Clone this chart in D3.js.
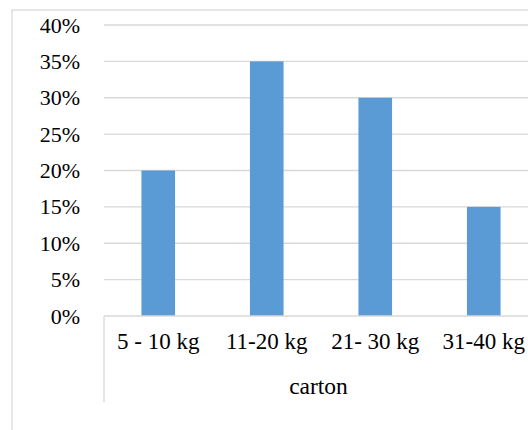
<!DOCTYPE html>
<html>
<head>
<meta charset="utf-8">
<script src="https://cdn.jsdelivr.net/npm/d3@7"></script>
<style>
  html, body { margin: 0; padding: 0; background: #fff; }
  svg { display: block; }
</style>
</head>
<body>
<svg id="chart" width="528" height="430"></svg>
<script>
// Share of cartons by weight class
const categories = ["5 - 10 kg", "11-20 kg", "21- 30 kg", "31-40 kg"];
const shares = [0.20, 0.35, 0.30, 0.15];
const yTicks = [0, 0.05, 0.10, 0.15, 0.20, 0.25, 0.30, 0.35, 0.40];
const groupLabel = "carton";

const plot = { left: 104, right: 538, top: 25, bottom: 316 };
const gridColor = "#d9d9d9";
const barColor = "#5B9BD5";
const fontFamily = "'Liberation Serif', 'Times New Roman', 'DejaVu Serif', serif";

const svg = d3.select("#chart");

// chart frame (extends past the visible area on the right and bottom)
svg.append("rect")
  .attr("x", 12).attr("y", 10)
  .attr("width", 560).attr("height", 460)
  .attr("fill", "none").attr("stroke", gridColor).attr("stroke-width", 1.3);

const x = d3.scaleBand()
  .domain(categories)
  .range([plot.left, plot.right])
  .paddingInner(0.69)
  .paddingOuter(0.345);

const y = d3.scaleLinear()
  .domain([0, 0.40])
  .range([plot.bottom, plot.top]);

// horizontal gridlines
svg.append("g")
  .selectAll("line")
  .data(yTicks.filter(t => t > 0))
  .join("line")
  .attr("x1", plot.left).attr("x2", plot.right)
  .attr("y1", d => y(d)).attr("y2", d => y(d))
  .attr("stroke", gridColor).attr("stroke-width", 1.3);

// value axis labels
const yAxis = d3.axisLeft(y)
  .tickValues(yTicks)
  .tickFormat(d3.format(".0%"))
  .tickSize(0)
  .tickPadding(24);
const yg = svg.append("g")
  .attr("transform", `translate(${plot.left},0)`)
  .call(yAxis);
yg.select(".domain").remove();
yg.attr("font-family", null).attr("font-size", null);
yg.selectAll("text")
  .style("font-family", fontFamily)
  .style("font-size", "22px")
  .style("fill", "#000");

// bars
svg.append("g")
  .selectAll("rect")
  .data(categories.map((c, i) => ({ c, v: shares[i] })))
  .join("rect")
  .attr("x", d => x(d.c))
  .attr("width", x.bandwidth())
  .attr("y", d => y(d.v))
  .attr("height", d => y(0) - y(d.v))
  .attr("fill", barColor);

// category axis line
svg.append("line")
  .attr("x1", plot.left).attr("x2", plot.right)
  .attr("y1", plot.bottom).attr("y2", plot.bottom)
  .attr("stroke", gridColor).attr("stroke-width", 1.3);

// multi-level axis divider on the left
svg.append("line")
  .attr("x1", plot.left).attr("x2", plot.left)
  .attr("y1", plot.bottom).attr("y2", 402)
  .attr("stroke", gridColor).attr("stroke-width", 1.3);

// category labels
svg.append("g")
  .selectAll("text")
  .data(categories)
  .join("text")
  .attr("x", d => x(d) + x.bandwidth() / 2)
  .attr("y", 349)
  .attr("text-anchor", "middle")
  .style("font-family", fontFamily)
  .style("font-size", "23px")
  .style("fill", "#000")
  .text(d => d);

// group label
svg.append("text")
  .attr("x", 318.5)
  .attr("y", 394)
  .attr("text-anchor", "middle")
  .style("font-family", fontFamily)
  .style("font-size", "23.5px")
  .style("fill", "#000")
  .text(groupLabel);
</script>
</body>
</html>
